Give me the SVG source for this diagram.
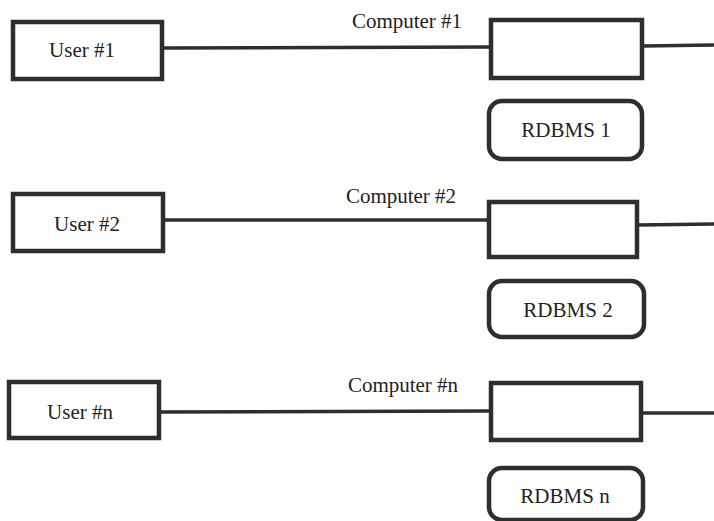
<svg xmlns="http://www.w3.org/2000/svg" width="714" height="521" viewBox="0 0 714 521">
<style>
.box{fill:#fff;stroke:#2e2e2e;stroke-width:4.5}
.db{fill:#fff;stroke:#2e2e2e;stroke-width:4.5}
.ln{stroke:#2e2e2e;stroke-width:3.5;fill:none}
.t{font-family:'Liberation Serif','DejaVu Serif',serif;font-size:21px;fill:#222;text-anchor:middle}
</style>
<rect width="714" height="521" fill="#fff"/>
<g id="connectors">
<line class="ln" x1="163" y1="48" x2="490" y2="47"/>
<line class="ln" x1="643" y1="46" x2="714" y2="45"/>
<line class="ln" x1="164" y1="220" x2="488" y2="220"/>
<line class="ln" x1="638" y1="225" x2="714" y2="224"/>
<line class="ln" x1="160" y1="412" x2="490" y2="411"/>
<line class="ln" x1="642" y1="413" x2="714" y2="413"/>
</g>
<g id="user1"><rect class="box" x="13" y="22" width="149" height="57"/><text class="t" x="82" y="57">User #1</text></g>
<g id="computer1"><rect class="box" x="491" y="20" width="151" height="58"/><text class="t" x="407" y="28">Computer #1</text></g>
<g id="rdbms1"><rect class="db" x="489" y="101" width="153" height="58" rx="13"/><text class="t" x="566" y="137">RDBMS 1</text></g>
<g id="user2"><rect class="box" x="13" y="194" width="150" height="57"/><text class="t" x="87" y="231">User #2</text></g>
<g id="computer2"><rect class="box" x="489" y="202" width="148" height="55"/><text class="t" x="401" y="203">Computer #2</text></g>
<g id="rdbms2"><rect class="db" x="489" y="281" width="155" height="56" rx="13"/><text class="t" x="568" y="317">RDBMS 2</text></g>
<g id="usern"><rect class="box" x="9" y="382" width="150" height="56"/><text class="t" x="80" y="419">User #n</text></g>
<g id="computern"><rect class="box" x="491" y="383" width="150" height="57"/><text class="t" x="403" y="392">Computer #n</text></g>
<g id="rdbmsn"><rect class="db" x="489" y="468" width="154" height="52" rx="13"/><text class="t" x="565" y="503">RDBMS n</text></g>
</svg>
